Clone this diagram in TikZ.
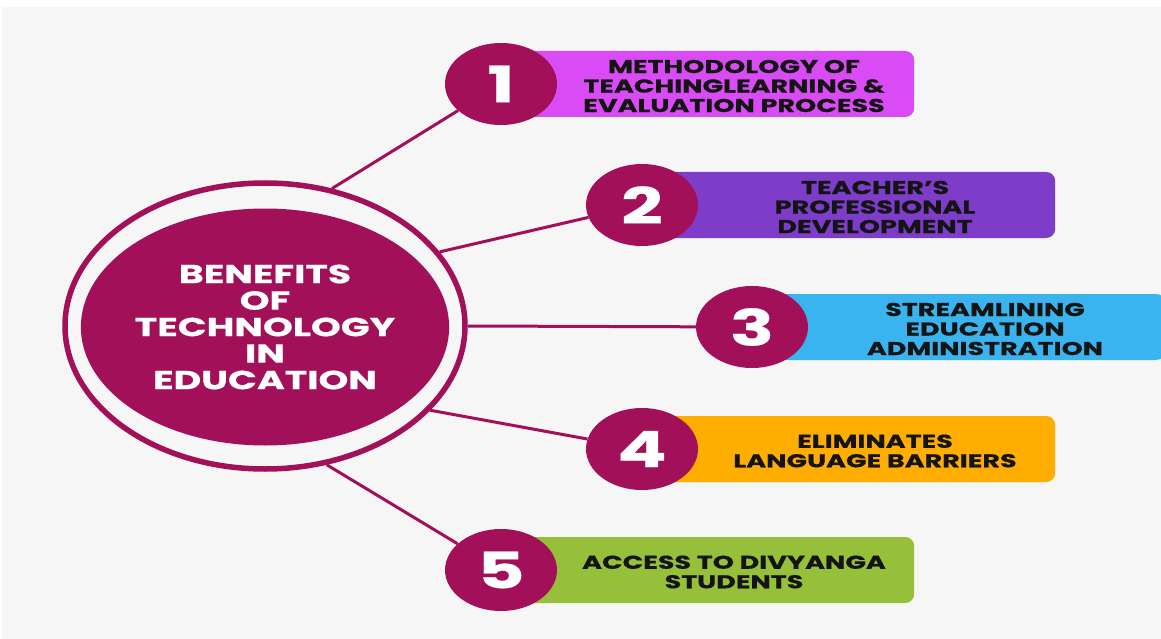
\documentclass[tikz,border=0pt]{standalone}
\usepackage{fontspec}
\setmainfont{Poppins}[FakeStretch=1.46,BoldFeatures={FakeBold=0.6}]
\usetikzlibrary{shapes.geometric}

\definecolor{berry}{HTML}{A3105A}
\definecolor{paper}{HTML}{F6F6F6}
\definecolor{orchid}{HTML}{D94BF5}
\definecolor{grape}{HTML}{7D3DC8}
\definecolor{sky}{HTML}{3AB4EE}
\definecolor{amber}{HTML}{FFAE00}
\definecolor{lime}{HTML}{96BF3A}

\begin{document}
\begin{tikzpicture}[x=1pt,y=-1pt,
   hub/.style={ellipse,fill=berry,text=white,inner sep=0pt,align=center,
      minimum width=320pt,minimum height=237pt,font=\fontsize{26}{26.5}\selectfont\bfseries},
   halo/.style={ellipse,draw=berry,line width=5.5pt,minimum width=400pt,minimum height=286pt},
   numdisc/.style={ellipse,fill=berry,text=white,inner sep=0pt,
      minimum width=112pt,minimum height=82pt,font=\fontsize{50}{50}\selectfont\bfseries},
   band/.style={rounded corners=9pt,minimum width=413pt,minimum height=66pt,anchor=west},
   bandtext/.style={align=center,text=black!92,font=\fontsize{18.5}{19.5}\selectfont\bfseries},
   spoke/.style={draw=berry,line width=3pt}]
  \useasboundingbox (0,0) rectangle (1161,639);
  \fill[paper] (2,7) rectangle (1161,639);
  % centre
  \node[halo] (halo) at (265,326) {};
  \node[hub] (hub) at (265,327) {BENEFITS\\OF\\TECHNOLOGY\\IN\\EDUCATION};
  % numbered items: bar first, then its text, then the disc on top
  \foreach \i/\x/\y/\col/\txt in {
      1/501/84/orchid/{METHODOLOGY OF\\TEACHINGLEARNING \&\\EVALUATION PROCESS},
      2/642/205/grape/{TEACHER’S\\PROFESSIONAL\\DEVELOPMENT},
      3/752/327/sky/{STREAMLINING\\EDUCATION\\ADMINISTRATION},
      4/642/449/amber/{ELIMINATES\\LANGUAGE BARRIERS},
      5/501/570/lime/{ACCESS TO DIVYANGA\\STUDENTS}}{
    \node[band,fill=\col] (b\i) at (\x,\y) {};
    \node[bandtext] (t\i) at (\x+233,\y+2) {\txt};
    \node[numdisc] (n\i) at (\x,\y) {\i};
  }
  \foreach \i/\a in {1/64,2/23,3/0,4/-27,5/-66}{\draw[spoke] (halo.\a) -- (n\i);}
\end{tikzpicture}
\end{document}
